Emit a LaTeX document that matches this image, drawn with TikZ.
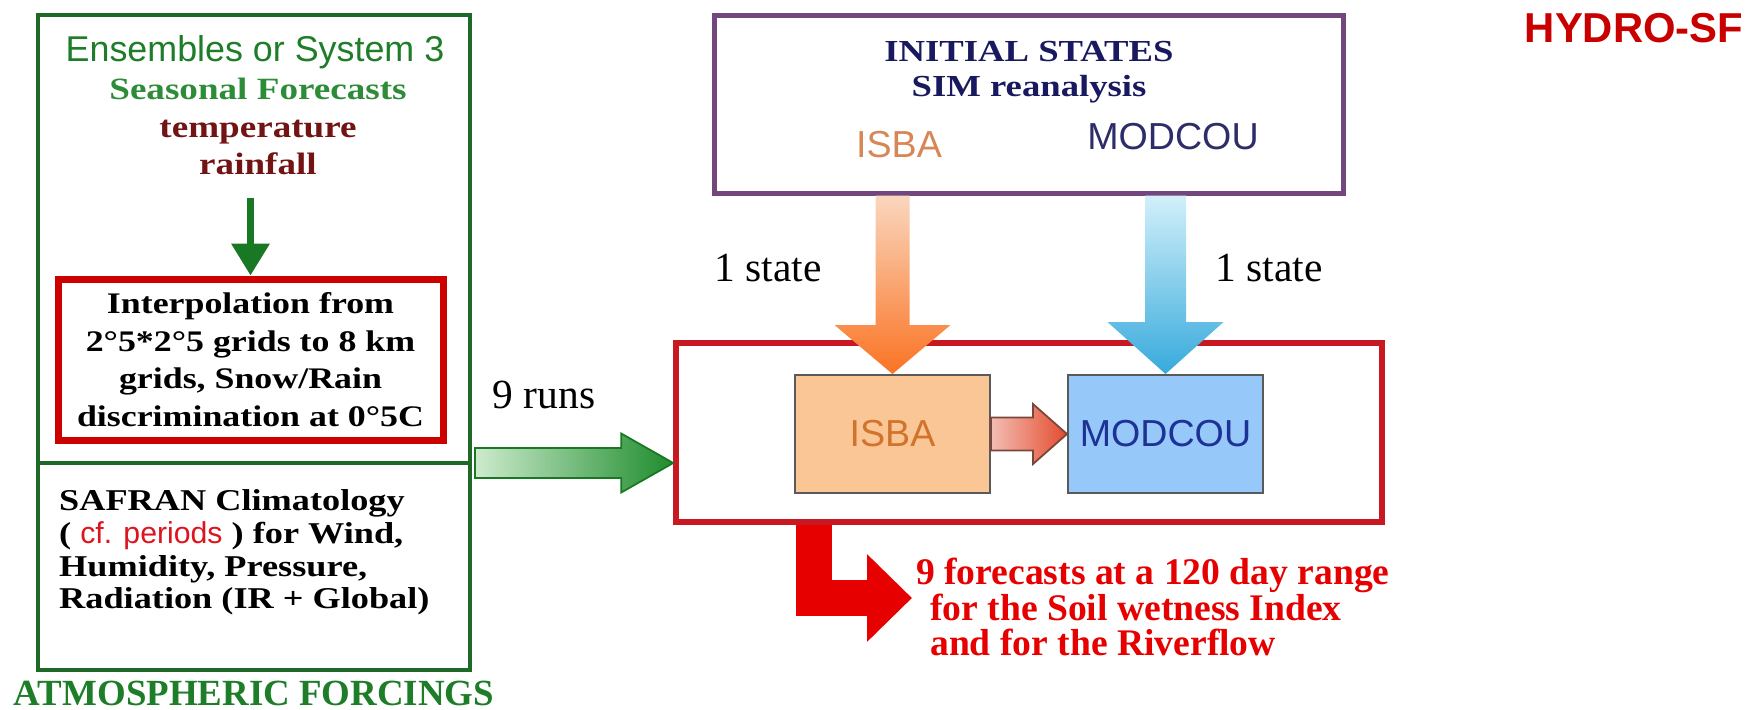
\documentclass[tikz,border=0pt]{standalone}
\usepackage{fontspec}
\setmainfont{Liberation Serif}
\setsansfont{Liberation Sans}
\newfontfamily\wideserif[FakeStretch=1.2]{Liberation Serif}
\usepackage{tikz}
\usetikzlibrary{
  arrows.meta,
  positioning,
  calc
}
\definecolor{forcinggreen}{RGB}{30, 105, 40}
\definecolor{titlegreen}{RGB}{30, 125, 40}
\definecolor{seasongreen}{RGB}{45, 140, 55}
\definecolor{arrowgreen}{RGB}{25, 120, 35}
\definecolor{meteored}{RGB}{115, 20, 20}
\definecolor{interpred}{RGB}{205, 0, 0}
\definecolor{periodred}{RGB}{220, 20, 30}
\definecolor{initpurple}{RGB}{115, 70, 125}
\definecolor{statenavy}{RGB}{25, 25, 95}
\definecolor{isbaorange}{RGB}{215, 135, 85}
\definecolor{modcounavy}{RGB}{45, 45, 105}
\definecolor{modelred}{RGB}{200, 25, 35}
\definecolor{isbafill}{RGB}{250, 198, 150}
\definecolor{modcoufill}{RGB}{150, 200, 250}
\definecolor{isbatext}{RGB}{210, 115, 45}
\definecolor{modcoutext}{RGB}{30, 50, 150}
\definecolor{boxgray}{RGB}{90, 90, 90}
\definecolor{orangelight}{RGB}{250, 215, 190}
\definecolor{orangedark}{RGB}{250, 115, 35}
\definecolor{bluelight}{RGB}{210, 240, 250}
\definecolor{bluedark}{RGB}{55, 170, 220}
\definecolor{runslight}{RGB}{205, 235, 205}
\definecolor{runsdark}{RGB}{30, 140, 45}
\definecolor{couplelight}{RGB}{242, 190, 180}
\definecolor{coupledark}{RGB}{228, 75, 45}
\definecolor{coupleedge}{RGB}{120, 70, 60}
\definecolor{forecastred}{RGB}{230, 0, 0}
\definecolor{hydrored}{RGB}{200, 0, 0}
\tikzset{
widetext/.style={
  align=center,
  inner sep=1pt
},
sanslabel/.style={
  font=\sffamily\fontsize{10.7}{12}\selectfont,
  inner sep=1pt
},
statelabel/.style={
  font=\fontsize{11.8}{14}\selectfont,
  text=black,
  inner sep=1pt
}
}

\begin{document}
\begin{tikzpicture}[
    % Styles
    forcingframe/.style={
        rectangle,
        draw=forcinggreen,
        line width=0.04cm,
        minimum width=4.32cm,
        minimum height=6.55cm,
    },
    interpframe/.style={
        rectangle,
        draw=interpred,
        line width=0.07cm,
        minimum width=3.85cm,
        minimum height=1.61cm,
        font=\wideserif\bfseries\fontsize{8.5}{10.7}\selectfont,
        align=center,
    },
    initframe/.style={
        rectangle,
        draw=initpurple,
        line width=0.05cm,
        minimum width=6.285cm,
        minimum height=1.78cm,
    },
    modelframe/.style={
        rectangle,
        draw=modelred,
        line width=0.055cm,
        minimum width=7.06cm,
        minimum height=1.79cm,
    },
    modelblock/.style={
        rectangle,
        draw=boxgray,
        line width=0.02cm,
        minimum width=1.95cm,
        minimum height=1.18cm,
        font=\sffamily\fontsize{10.7}{12}\selectfont,
    },
    downarrow/.style={
        -{Triangle[length=0.32cm, width=0.37cm]},
        line width=0.07cm,
        draw=arrowgreen,
    },
    outputarrow/.style={
        -{Triangle[length=0.45cm, width=0.85cm]},
        line width=0.36cm,
        draw=forecastred,
    },
]

\useasboundingbox (0, 0) rectangle (17.49, 7.09);

% ============================================================================
% ATMOSPHERIC FORCINGS
% ============================================================================
\node[forcingframe] (forcingbox) at (2.54, 3.665) {};
\node[font=\bfseries\fontsize{10.5}{12}\selectfont, text=titlegreen, inner sep=1pt, below=0.05cm of forcingbox.south] (forcingtitle) {ATMOSPHERIC FORCINGS};

\node[font=\sffamily\fontsize{10.2}{12}\selectfont, text=titlegreen] (ensembles) at (2.55, 6.57) {Ensembles or System 3};
\node[widetext, font=\wideserif\bfseries\fontsize{8.8}{10.7}\selectfont, text=meteored] (seasonal) at (2.58, 5.825) {\textcolor{seasongreen}{Seasonal Forecasts}\\temperature\\rainfall};

\node[interpframe] (interp) at (2.505, 3.495) {Interpolation from\\2°5*2°5 grids to 8 km\\grids, Snow/Rain\\discrimination at 0°5C};
\draw[downarrow, shorten <=0.19cm] (seasonal.south -| interp.north) -- (interp.north);

% separation line
\draw[forcinggreen, line width=0.04cm] (forcingbox.west |- 0, 2.46) -- (forcingbox.east |- 0, 2.46);

\node[widetext, font=\wideserif\bfseries\fontsize{8.6}{9.3}\selectfont, align=left, anchor=west] (safran) at (0.55, 1.565) {SAFRAN Climatology\\( {\sffamily\mdseries\color{periodred}cf. periods} ) for Wind,\\Humidity, Pressure,\\Radiation (IR + Global)};

% ============================================================================
% INITIAL STATES
% ============================================================================
\node[initframe] (initbox) at (10.29, 6.05) {};
\node[widetext, font=\wideserif\bfseries\fontsize{8.7}{9.7}\selectfont, text=statenavy, below=0.25cm of initbox.north] (inittitle) {INITIAL STATES\\SIM reanalysis};
\node[sanslabel, text=isbaorange] (isbainit) at (8.99, 5.64) {ISBA};
\node[sanslabel, text=modcounavy] (modcouinit) at (11.73, 5.72) {MODCOU};

\node[font=\sffamily\bfseries\fontsize{11.9}{14}\selectfont, text=hydrored] (hydro) at (16.34, 6.81) {HYDRO-SF};

% ============================================================================
% MODELS
% ============================================================================
\node[modelframe] (modelbox) at (10.29, 2.765) {};
\node[modelblock, fill=isbafill, text=isbatext] (isbabox) at (8.925, 2.75) {ISBA};
\node[modelblock, fill=modcoufill, text=modcoutext] (modcoubox) at (11.655, 2.75) {MODCOU};

% ISBA -> MODCOU
\shade[left color=couplelight, right color=coupledark, draw=coupleedge, line width=0.5pt]
    ($(isbabox.east)+(0, 0.165)$) -- ($(modcoubox.west)+(-0.34, 0.165)$) -- ($(modcoubox.west)+(-0.34, 0.30)$)
    -- (modcoubox.west) -- ($(modcoubox.west)+(-0.34, -0.30)$) -- ($(modcoubox.west)+(-0.34, -0.165)$)
    -- ($(isbabox.east)+(0, -0.165)$) -- cycle;

% initial states
\coordinate (isbastart) at (isbabox.north |- initbox.south);
\coordinate (modcoustart) at (modcoubox.north |- initbox.south);
\shade[top color=orangelight, bottom color=orangedark]
    ($(isbastart)+(-0.17, 0)$) -- ($(isbabox.north)+(-0.17, 0.49)$) -- ($(isbabox.north)+(-0.58, 0.49)$)
    -- (isbabox.north) -- ($(isbabox.north)+(0.58, 0.49)$) -- ($(isbabox.north)+(0.17, 0.49)$)
    -- ($(isbastart)+(0.17, 0)$) -- cycle;
\shade[top color=bluelight, bottom color=bluedark]
    ($(modcoustart)+(-0.205, 0)$) -- ($(modcoubox.north)+(-0.205, 0.52)$) -- ($(modcoubox.north)+(-0.58, 0.52)$)
    -- (modcoubox.north) -- ($(modcoubox.north)+(0.58, 0.52)$) -- ($(modcoubox.north)+(0.205, 0.52)$)
    -- ($(modcoustart)+(0.205, 0)$) -- cycle;
\node[statelabel] (isbastate) at (7.68, 4.41) {1 state};
\node[statelabel] (modcoustate) at (12.69, 4.41) {1 state};

% forcings -> models
\coordinate (runsstart) at (forcingbox.east |- 0, 2.46);
\coordinate (runsend) at (modelbox.west |- runsstart);
\shade[left color=runslight, right color=runsdark, draw=arrowgreen, line width=0.5pt]
    ($(runsstart)+(0.03, 0.15)$) -- ($(runsend)+(-0.52, 0.15)$) -- ($(runsend)+(-0.52, 0.295)$)
    -- (runsend) -- ($(runsend)+(-0.52, -0.295)$) -- ($(runsend)+(-0.52, -0.15)$)
    -- ($(runsstart)+(0.03, -0.15)$) -- cycle;
\node[statelabel] (runslabel) at (5.44, 3.14) {9 runs};

% ============================================================================
% FORECASTS
% ============================================================================
\node[font=\bfseries\fontsize{10.7}{10}\selectfont, text=forecastred, align=left, anchor=west, inner sep=1pt] (forecast) at (9.12, 1.02) {9 forecasts at a 120 day range\\\hspace*{0.14cm}for the Soil wetness Index\\\hspace*{0.14cm}and for the Riverflow};
\draw[outputarrow] (modelbox.south -| 8.135, 0) |- ([yshift=0.09cm]forecast.west);

\end{tikzpicture}
\end{document}
